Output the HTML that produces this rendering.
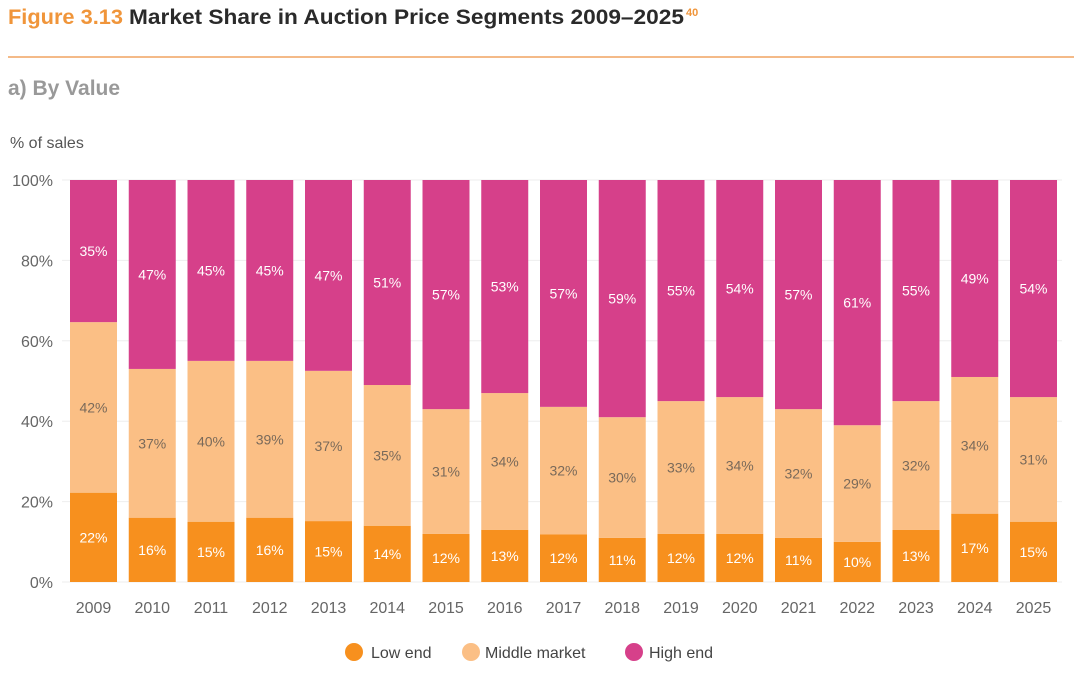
<!DOCTYPE html>
<html><head><meta charset="utf-8"><style>
body{margin:0;background:#fff;width:1080px;height:678px;overflow:hidden;font-family:"Liberation Sans","DejaVu Sans",sans-serif}
</style></head><body>
<svg width="1080" height="678" xmlns="http://www.w3.org/2000/svg">
<g font-weight="bold" font-size="21">
<text x="8" y="24" fill="#f0953a" textLength="115" lengthAdjust="spacingAndGlyphs">Figure 3.13</text>
<text x="129" y="24" fill="#2a2a2a" textLength="555" lengthAdjust="spacingAndGlyphs">Market Share in Auction Price Segments 2009–2025</text>
<text x="686" y="16" fill="#f0953a" font-size="11">40</text>
</g>
<line x1="8" y1="57" x2="1074" y2="57" stroke="#f0a460" stroke-width="1.5"/>
<text x="8" y="95" font-size="21" font-weight="bold" fill="#999">a) By Value</text>
<text x="10" y="148" font-size="16" fill="#555">% of sales</text>
<g id="grid"></g><g id="bars"></g><g id="ax"></g>
<g font-size="16" fill="#444">
<g><circle cx="354" cy="652" r="9" fill="#f7901e"/><text x="371" y="658">Low end</text></g>
<g><circle cx="471" cy="652" r="9" fill="#fbbf85"/><text x="485" y="658">Middle market</text></g>
<g><circle cx="634" cy="652" r="9" fill="#d6408a"/><text x="649" y="658">High end</text></g>
</g>
</svg>
<script>
const years=["2009","2010","2011","2012","2013","2014","2015","2016","2017","2018","2019","2020","2021","2022","2023","2024","2025"];
const low=[22,16,15,16,15,14,12,13,12,11,12,12,11,10,13,17,15];
const mid=[42,37,40,39,37,35,31,34,32,30,33,34,32,29,32,34,31];
const high=[35,47,45,45,47,51,57,53,57,59,55,54,57,61,55,49,54];
const yTicks=[0,20,40,60,80,100];
const NS="http://www.w3.org/2000/svg";
const y0=582,y100=180;
function y(v){return y0-(y0-y100)*v/100;}
function xc(i){return 93.5+i*58.75;}
const bw=47;
function mk(t,a,p){const e=document.createElementNS(NS,t);for(const k in a)e.setAttribute(k,a[k]);p.appendChild(e);return e;}
const grid=document.getElementById('grid'),ax=document.getElementById('ax'),bars=document.getElementById('bars');
yTicks.forEach(v=>{
 const l=mk('line',{x1:62,x2:1062,y1:y(v),y2:y(v),stroke:'#eee'},grid);
 
 
 const t=mk('text',{x:53,y:y(v)+6,'text-anchor':'end','font-size':16,fill:'#666'},ax);
 t.textContent=v+'%';
 
 
});
const cols=['#f7901e','#fbbf85','#d6408a'],tcol=['#fff','#7a6a5a','#fff'],names=['low','middle','high'];
years.forEach((yr,i)=>{
 const vals=[low[i],mid[i],high[i]];const s=vals[0]+vals[1]+vals[2];
 let acc=0;
 vals.forEach((v,k)=>{
  const a=acc/s*100,b=(k==2?100:(acc+v)/s*100);acc+=v;
  const r=mk('rect',{x:xc(i)-bw/2,y:y(b),width:bw,height:y(a)-y(b),fill:cols[k]},bars);
  
  
  const t=mk('text',{x:xc(i),y:(y(a)+y(b))/2+5,'text-anchor':'middle','font-size':14,fill:tcol[k]},bars);
  t.textContent=v+'%';
  
  
 });
 const t=mk('text',{x:xc(i),y:613,'text-anchor':'middle','font-size':16,fill:'#666'},ax);
 t.textContent=yr;
 
 
});
</script>
</body></html>
